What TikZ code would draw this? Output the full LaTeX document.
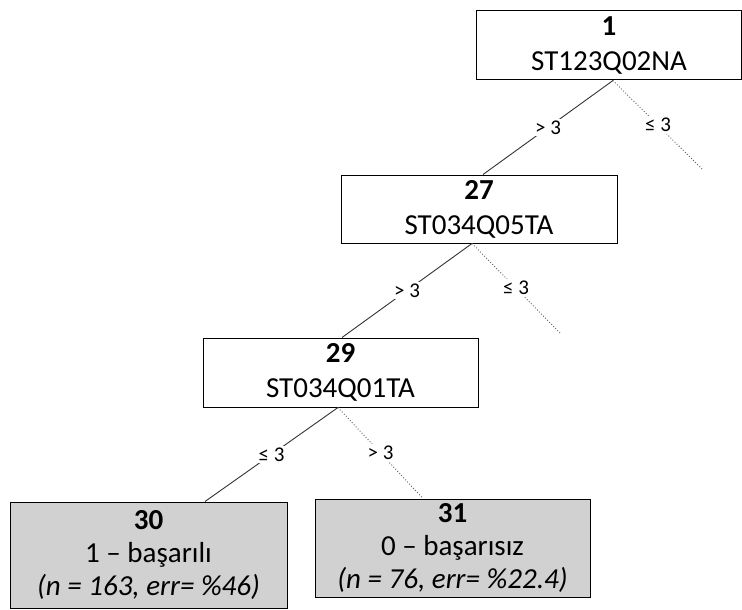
\documentclass[tikz,border=0pt]{standalone}
\usepackage{fontspec}
\setmainfont{Carlito}
\begin{document}
\begin{tikzpicture}[x=1pt,y=-1pt,
  split/.style={draw=black,line width=1pt,fill=white,align=center,inner sep=0pt,
    font=\fontsize{29}{35}\selectfont},
  leaf/.style={split,fill=black!18,font=\fontsize{29}{33}\selectfont},
  branch/.style={draw=black!80,line width=0.9pt},
  pruned/.style={draw=black!65,line width=0.9pt,dotted},
  cond/.style={fill=white,inner sep=2pt,font=\fontsize{21}{23}\selectfont}]
\useasboundingbox (0,0) rectangle (742,610);

% decision nodes
\node[split,minimum width=265pt,minimum height=69pt] (n1) at (609,45.5)
  {\textbf{1}\\ST123Q02NA};
\node[split,minimum width=276pt,minimum height=68pt] (n27) at (479,209)
  {\textbf{27}\\ST034Q05TA};
\node[split,minimum width=275pt,minimum height=69pt] (n29) at (340.5,372.5)
  {\textbf{29}\\ST034Q01TA};

% terminal nodes
\node[leaf,minimum width=277pt,minimum height=106pt] (n30) at (148.5,555)
  {\textbf{30}\\1 – başarılı\\\textit{(n = 163, err= \%46)}};
\node[leaf,minimum width=275pt,minimum height=98pt] (n31) at (452.5,548)
  {\textbf{31}\\0 – başarısız\\\textit{(n = 76, err= \%22.4)}};

% ends of the pruned branches
\coordinate (e1) at (703,170);
\coordinate (e2) at (560,333);

% branches with their split conditions
\draw[branch] ([xshift=4pt]n1.south) -- ([xshift=4pt]n27.north)
  node[cond,pos=0.5] {> 3};
\draw[pruned] ([xshift=4pt]n1.south) -- (e1)
  node[cond,pos=0.5] {≤ 3};

\draw[branch] ([xshift=-7pt]n27.south) -- ([xshift=1.5pt]n29.north)
  node[cond,pos=0.5] {> 3};
\draw[pruned] ([xshift=-7pt]n27.south) -- (e2)
  node[cond,pos=0.5] {≤ 3};

\draw[branch] ([xshift=-2.5pt]n29.south) -- ([xshift=56.5pt]n30.north)
  node[cond,pos=0.5] {≤ 3};
\draw[pruned] ([xshift=-2.5pt]n29.south) -- ([xshift=-29.5pt]n31.north)
  node[cond,pos=0.5] {> 3};
\end{tikzpicture}
\end{document}
